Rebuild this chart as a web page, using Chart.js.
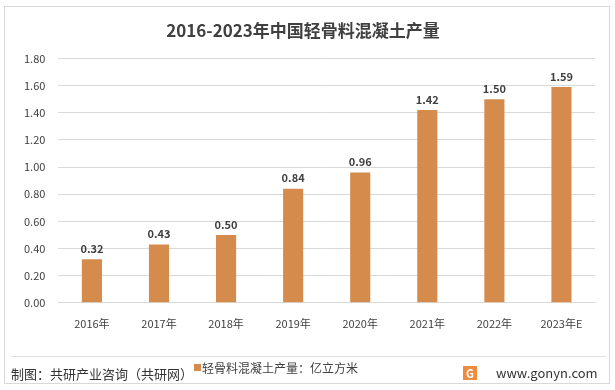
<!DOCTYPE html>
<html><head><meta charset="utf-8">
<script src="https://cdn.jsdelivr.net/npm/chart.js@4/dist/chart.umd.min.js"></script>
<style>html,body{margin:0;padding:0;background:#fff;}canvas{display:block;}</style>
</head><body>
<canvas id="c" width="615" height="390"></canvas>
<script>
const categories = ['2016年','2017年','2018年','2019年','2020年','2021年','2022年','2023年E'];
const values = [0.32, 0.43, 0.50, 0.84, 0.96, 1.42, 1.50, 1.59];
const seriesName = '轻骨料混凝土产量：亿立方米';
const titleText = '2016-2023年中国轻骨料混凝土产量';
const sourceText = '制图：共研产业咨询（共研网）';
const siteText = 'www.gonyn.com';
const barColor = '#D58B4B';
const FONT = '"Microsoft YaHei","Noto Sans CJK SC","DejaVu Sans",sans-serif';

const deco = {
  id: 'deco',
  afterDraw(chart) {
    const ctx = chart.ctx;
    ctx.save();
    ctx.strokeStyle = '#D9D9D9'; ctx.lineWidth = 1;
    ctx.strokeRect(4.5, 6.5, 605, 377);
    ctx.strokeStyle = '#E0E0E0';
    ctx.beginPath(); ctx.moveTo(11, 356.5); ctx.lineTo(606, 356.5); ctx.stroke();
    const meta = chart.getDatasetMeta(0);
    ctx.fillStyle = '#404040';
    ctx.font = 'bold 11px ' + FONT;
    ctx.textAlign = 'center'; ctx.textBaseline = 'bottom';
    meta.data.forEach((el, i) => {
      ctx.fillText(values[i].toFixed(2), el.x, el.y - 5);
    });
    ctx.textBaseline = 'middle';
    ctx.textAlign = 'left';
    ctx.font = '13px ' + FONT;
    ctx.fillStyle = '#333';
    ctx.fillText(sourceText, 11, 374);
    ctx.fillStyle = barColor;
    ctx.fillRect(194, 364, 7, 7);
    ctx.fillStyle = '#404040';
    ctx.font = '12px ' + FONT;
    ctx.fillText(seriesName, 202, 368);
    ctx.font = '13px ' + FONT;
    ctx.fillStyle = '#333';
    ctx.fillText(siteText, 496, 373);
    ctx.fillStyle = '#F08A3C';
    ctx.fillRect(463, 366, 14, 14);
    ctx.fillStyle = '#fff';
    ctx.font = 'bold 11px ' + FONT;
    ctx.textAlign = 'center';
    ctx.fillText('G', 470, 373.5);
    ctx.restore();
  }
};

new Chart(document.getElementById('c'), {
  type: 'bar',
  data: {
    labels: categories,
    datasets: [{ label: seriesName, data: values, backgroundColor: barColor, categoryPercentage: 1, barPercentage: 0.3 }]
  },
  options: {
    responsive: false,
    animation: false,
    layout: { padding: { left: 11, right: 20, top: 0, bottom: 54 } },
    plugins: {
      legend: { display: false },
      tooltip: { enabled: false },
      title: { display: true, text: titleText, color: '#404040', font: { family: FONT, size: 17, weight: 'bold' }, padding: { top: 20, bottom: 18 } }
    },
    scales: {
      x: {
        grid: { display: false },
        border: { color: '#D9D9D9' },
        ticks: { color: '#404040', font: { family: FONT, size: 11 }, padding: 6 }
      },
      y: {
        min: 0, max: 1.8,
        ticks: { stepSize: 0.2, color: '#404040', font: { family: FONT, size: 11 }, padding: 13, callback: v => v.toFixed(2) },
        grid: { color: '#D9D9D9', drawTicks: false },
        border: { display: false }
      }
    }
  },
  plugins: [deco]
});
</script>
</body></html>
